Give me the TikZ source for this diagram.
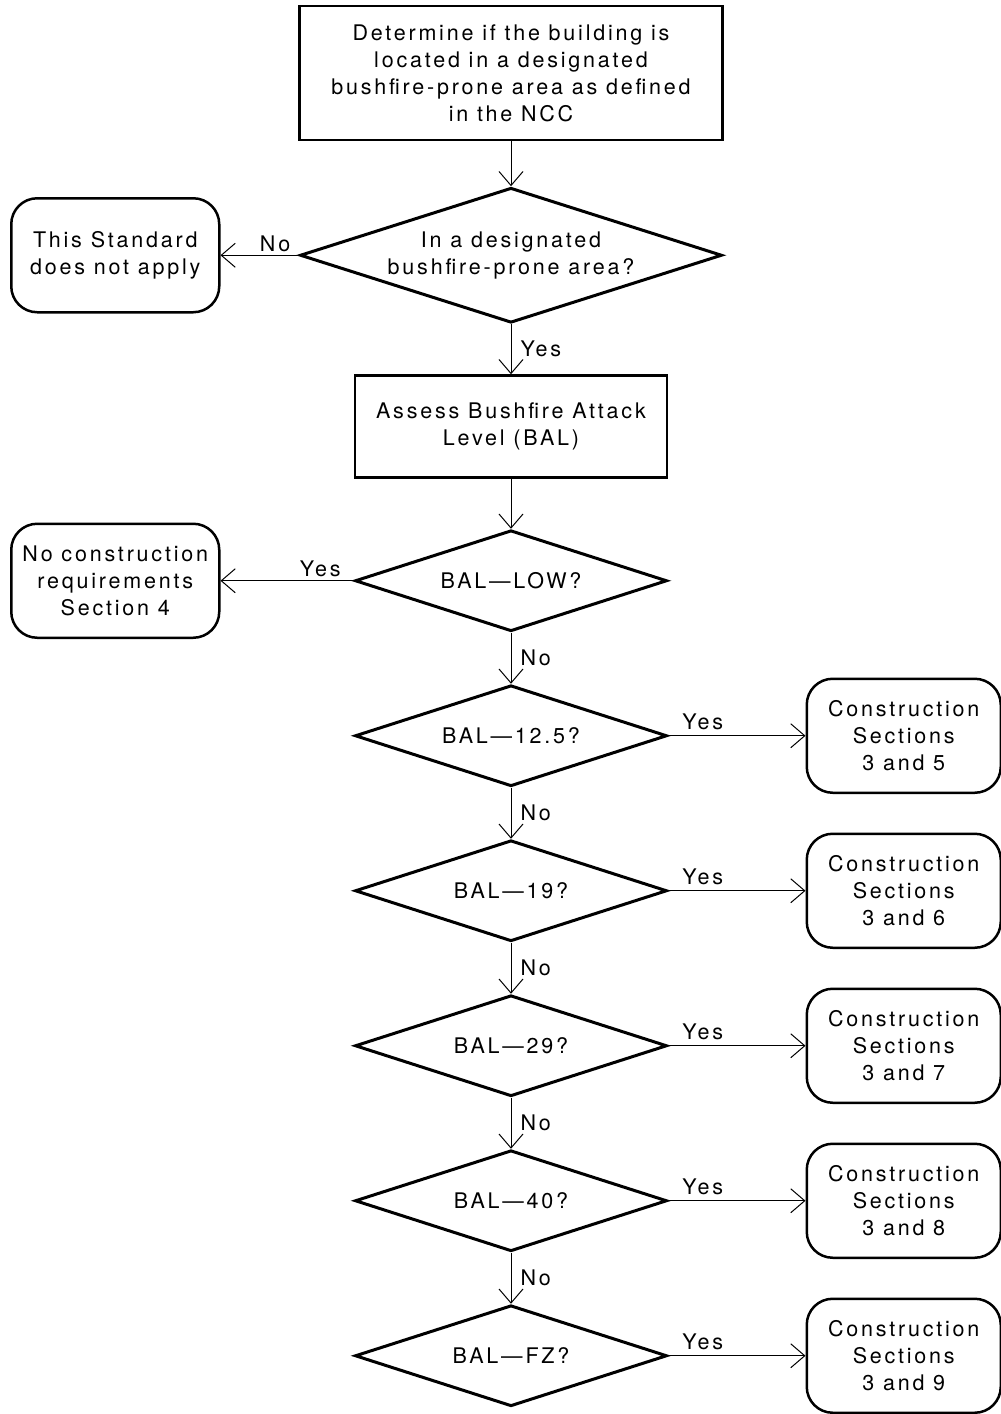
\documentclass[tikz,border=0pt]{standalone}
\usepackage{fontspec}
\setmainfont{TeX Gyre Heros}[LetterSpace=13]
\usetikzlibrary{arrows.meta, positioning, shapes.geometric}

\begin{document}
\begin{tikzpicture}[x=1pt, y=-1pt,
  txt/.style={font=\fontsize{21.5}{27}\selectfont},
  box/.style={draw, txt, line width=2.5pt, minimum width=423pt, minimum height=134pt,
              align=center},
  term/.style={draw, txt, line width=2.5pt, rounded corners=26pt, minimum width=208pt,
               minimum height=114pt, align=center, inner sep=2pt},
  test/.style={draw, txt, diamond, aspect=3.1, line width=3pt, minimum width=312pt,
               minimum height=101pt, inner sep=0pt, align=center},
  arr/.style={-{Straight Barb[length=14pt, width=24pt]}, line width=1pt},
  lbl/.style={txt, inner sep=3pt},
  node distance=50pt and 137pt
]
  \useasboundingbox (0,0) rectangle (1001,1414);

  \node[box] (locate) at (511,73) {Determine if the building is\\located in a designated\\bushfire-prone area as defined\\in the NCC};
  \node[test, minimum width=422pt, minimum height=135pt, below=45pt of locate] (prone) {In a designated\\bushfire-prone area?};
  \node[term, left=78pt of prone]  (noapply) {This Standard\\does not apply};
  \node[box, minimum width=312pt, minimum height=102pt, below=of prone] (assess) {Assess Bushfire Attack\\Level (BAL)};
  \node[test, below=of assess] (low) {BAL—LOW?};
  \node[term, left=133pt of low]   (noreq)   {No construction\\requirements\\Section 4};

  \draw[arr] (locate) -- (prone);
  \draw[arr] (prone)  -- node[lbl, pos=0.3, above]{No} (noapply);
  \draw[arr] (prone)  -- node[lbl, right=6pt]{Yes} (assess);
  \draw[arr] (assess) -- (low);
  \draw[arr] (low)    -- node[lbl, pos=0.25, above]{Yes} (noreq);

  % one test and one outcome per level
  \foreach \name/\lev/\sec [remember=\name as \prev (initially low)] in
      {b125/12.5/5, b19/19/6, b29/29/7, b40/40/8, bfz/FZ/9} {
    \node[test, below=51pt of \prev] (\name) {BAL—\lev?};
    \node[term, minimum width=194pt, right=of \name] (c\name) {Construction\\Sections\\3 and \sec};
    \draw[arr] (\prev) -- node[lbl, right=6pt]{No} (\name);
    \draw[arr] (\name) -- node[lbl, pos=0.25, above=2pt]{Yes} (c\name);
  }
\end{tikzpicture}
\end{document}
